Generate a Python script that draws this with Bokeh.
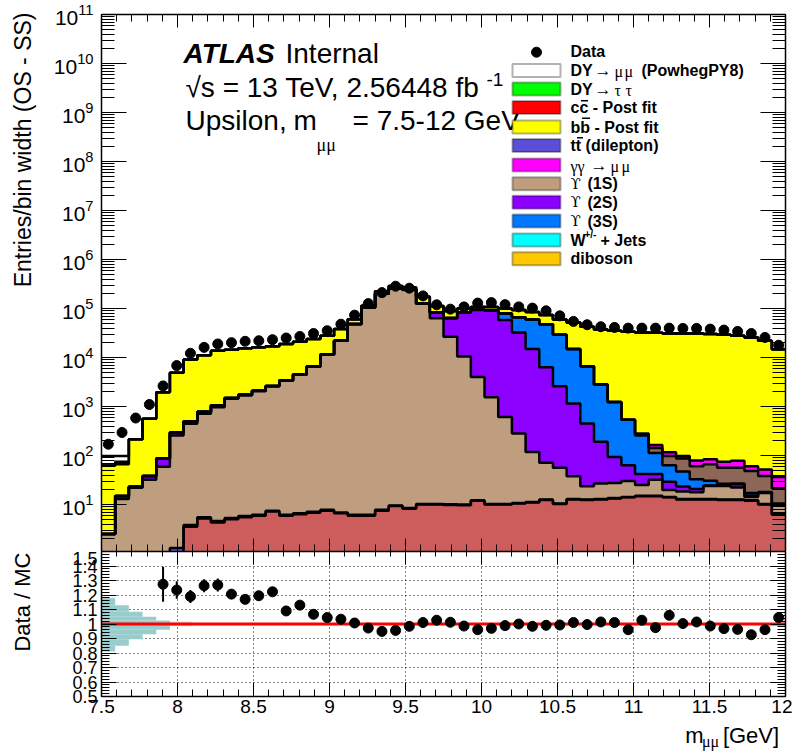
import math
import numpy as np
from bokeh.plotting import figure
from bokeh.layouts import column, row
from bokeh.models import (Range1d, LinearScale, FixedTicker, LogTickFormatter,
                          CustomJSTickFormatter, LinearAxis, LogAxis, Label, BoxAnnotation)
from bokeh.embed import file_html
from bokeh.resources import INLINE

# ---------------- binning: 50 bins of 0.09 GeV ----------------
mass_lo, mass_hi, n_bins = 7.5, 12.0, 50
edges = np.linspace(mass_lo, mass_hi, n_bins + 1)
centers = 0.5 * (edges[:-1] + edges[1:])

# ---------------- data (entries / bin width, OS - SS) ----------------
data_vals = [170, 295, 582, 1100, 2630, 6840, 12200, 16100, 18900, 20100,
             21400, 22000, 23100, 25000, 26900, 30900, 35200, 47900, 73300, 126000,
             211000, 285000, 260000, 181000, 119000, 97000, 108000, 129000, 132000, 120000,
             108000, 102000, 89700, 70800, 54500, 46700, 42500, 41100, 39800, 39800,
             39800, 39800, 39300, 39300, 38000, 36300, 34100, 30900, 25700, 17800]

# ---------------- stacked MC components (bottom to top) ----------------
misc_red = [0, 0, 0, 0, 0, 0, 3.5, 5.2, 4.3, 5.0,
            5.5, 5.9, 7.2, 5.9, 6.3, 6.8, 7.5, 6.6, 5.9, 5.9,
            7.5, 9.3, 8.2, 10.0, 10.0, 9.8, 9.7, 11.9, 10.0, 10.0,
            10.5, 11.0, 12.3, 10.2, 12.6, 12.3, 12.6, 13.3, 14.0, 14.8,
            14.8, 14.0, 12.6, 12.6, 12.6, 12.3, 12.3, 11.9, 10.0, 6.2]
ttbar = [0, 0, 0, 0, 0, 1.3, 0.3, 0.3, 0.3, 0.3,
         0.3, 0.3, 0.3, 0.3, 0.3, 0.3, 0.3, 0.3, 0.3, 0.3,
         0.3, 0.3, 0.3, 0.3, 0.3, 0.3, 0.3, 0.3, 0.3, 0.3,
         0.3, 0.3, 0.3, 0.3, 0.3, 0.3, 0.3, 0.3, 0.3, 0.3,
         0.3, 0.3, 0.3, 0.3, 0.3, 0.3, 0.3, 0.3, 0.3, 0.3]
ups1s = [2.5, 13, 22, 32, 59, 256, 442, 705, 966, 1435,
         1675, 2044, 2573, 3364, 4464, 6493, 11490, 21890, 47990, 105000,
         200000, 255000, 240000, 125000, 63000, 26500, 10500, 4000, 1540, 600,
         270, 107, 59, 46, 25, 11, 14, 14, 16, 10,
         17, 5.5, 5.6, 4.8, 11, 11.4, 9.7, 2, 6.8, 3]
ups2s = [0, 2, 1, 6, 28, 36, 54, 70, 80, 60,
         50, 50, 50, 50, 50, 50, 60, 60, 100, 100,
         200, 300, 500, 1000, 20000, 37000, 72500, 89000, 88000, 57400,
         32200, 14800, 6230, 2540, 1110, 427, 163, 66, 33, 17,
         10, 9.5, 4.8, 3, 0.5, 0.5, 3.7, 1, 0.5, 0.5]
ups3s = [0, 0, 0, 0, 0, 0, 0, 0, 0, 0,
         0, 0, 0, 0, 0, 0, 0, 0, 0, 0,
         0, 0, 0, 0, 300, 500, 1000, 1500, 3000, 21000,
         33500, 45000, 41700, 26600, 13750, 6150, 2610, 1137, 474, 215,
         70, 34, 24, 12, 6, 2, 1, 2, 0.5, 0.5]
misc_brown = [0, 0, 0, 0, 0, 0, 0, 0, 0, 0,
              0, 0, 0, 0, 0, 0, 0, 0, 0, 0,
              0, 0, 0, 0, 0, 0, 0, 0, 0, 0,
              0, 0, 0, 0, 0, 0, 0, 0, 0, 15,
              31, 34, 40, 28, 36, 30, 29, 31, 20, 11]
gamgam = [0, 0, 0, 0, 0, 0, 0, 0, 0, 0,
          0, 0, 0, 0, 0, 0, 0, 0, 0, 0,
          0, 0, 0, 0, 0, 0, 0, 0, 0, 0,
          0, 0, 0, 0, 0, 0, 0, 0, 0, 10,
          21, 19, 10, 18, 18, 18, 22, 12, 14, 15]
bbbar = [60, 51, 191, 522, 1860, 4600, 8620, 10310, 12750, 12950,
         13770, 14100, 14370, 15380, 16380, 17450, 16340, 16040, 12200, 8400,
         24800, 32700, 29500, 48000, 29700, 25000, 16000, 12500, 14450, 21000,
         27000, 25100, 26000, 30800, 37000, 35900, 34500, 33870, 32960, 32120,
         31840, 30880, 30900, 30920, 30120, 29130, 27820, 25640, 21850, 14760]
ccbar = [0, 9, 0, 0, 0, 0, 0, 0, 0, 0,
         0, 0, 0, 0, 0, 0, 0, 0, 0, 0,
         0, 0, 0, 0, 0, 0, 0, 0, 0, 0,
         0, 0, 0, 0, 0, 0, 0, 0, 0, 0,
         0, 0, 0, 0, 0, 0, 0, 0, 0, 0]
dymumu = [35, 23, 0, 0, 0, 0, 0, 0, 0, 0,
          0, 0, 0, 0, 0, 0, 0, 0, 0, 0,
          0, 0, 0, 0, 0, 0, 0, 0, 0, 0,
          0, 0, 0, 0, 0, 0, 0, 0, 0, 0,
          0, 0, 0, 0, 0, 0, 0, 0, 0, 0]

# ---------------- ratio panel ----------------
nan = float("nan")
ratio_vals = [nan, nan, nan, nan, 1.274, 1.234, 1.19, 1.264, 1.269, 1.206,
              1.17, 1.195, 1.222, 1.09, 1.13, 1.067, 1.044, 1.033, 1.007, 0.972,
              0.949, 0.956, 0.984, 1.01, 1.026, 1.012, 0.986, 0.961, 0.97, 0.989,
              1.0, 0.984, 0.991, 0.993, 1.01, 0.996, 1.014, 1.01, 0.961, 1.026,
              0.975, 1.06, 1.003, 1.014, 0.986, 0.968, 0.963, 0.926, 0.961, 1.044]
ratio_errs = [nan, nan, nan, nan, 0.12, 0.06, 0.045, 0.045, 0.045, 0.03,
              0.025, 0.02, 0.02, 0.015, 0.015, 0.012, 0.012, 0.01, 0.01, 0.01,
              0.01, 0.01, 0.01, 0.01, 0.01, 0.01, 0.01, 0.01, 0.01, 0.01,
              0.01, 0.01, 0.01, 0.01, 0.01, 0.01, 0.01, 0.01, 0.01, 0.01,
              0.01, 0.01, 0.01, 0.01, 0.01, 0.01, 0.01, 0.01, 0.01, 0.01]

# sideways spread histogram drawn against the left edge of the ratio panel
spread_edges = [0.81, 0.85, 0.895, 0.93, 0.96, 1.0, 1.025, 1.05, 1.085, 1.13, 1.18]
spread_len = [0.09, 0.18, 0.27, 0.36, 0.45, 0.45, 0.36, 0.27, 0.18, 0.09]

x_ticks = [7.5, 8.0, 8.5, 9.0, 9.5, 10.0, 10.5, 11.0, 11.5, 12.0]
ratio_ticks = [0.5, 0.6, 0.7, 0.8, 0.9, 1.0, 1.1, 1.2, 1.3, 1.4, 1.5]
log_ticks = [1e1, 1e2, 1e3, 1e4, 1e5, 1e6, 1e7, 1e8, 1e9, 1e10, 1e11]

# ---------------- layout constants (page pixels) ----------------
FONT = "Liberation Sans"
SYM = "Liberation Serif"
W, H = 792, 751
STRIP_W = 40                 # left strip holding the rotated axis titles
FR_L, FR_R = 101, 785        # frame left / right
TOP_T, TOP_B = 14, 551       # upper frame top / bottom
BOT_B = 696                  # lower frame bottom
TITLE_T = 721                # top of the strip holding the x title
H_TOP = TOP_B
H_BOT = TITLE_T - TOP_B
H_TITLE = H - TITLE_T
PANEL_W = W - STRIP_W

x_minor = [round(7.5 + 0.1 * i, 2) for i in range(46)]
log_minor = [m * 10 ** k for k in range(0, 11) for m in range(2, 10) if m * 10 ** k > 1.1]
ratio_minor = [round(0.5 + 0.02 * i, 3) for i in range(51)]
blank = CustomJSTickFormatter(code="return ''")
short_num = CustomJSTickFormatter(code="return (Math.round(tick*10)/10).toString();")


def style_axis(ax, major_in, minor_in, labels=True, size="19px", standoff=4):
    ax.major_tick_in = major_in
    ax.major_tick_out = 0
    ax.minor_tick_in = minor_in
    ax.minor_tick_out = 0
    ax.axis_line_color = "black"
    ax.axis_line_width = 1.5
    ax.major_tick_line_color = "black"
    ax.minor_tick_line_color = "black"
    ax.major_tick_line_width = 1
    ax.minor_tick_line_width = 1
    ax.major_label_text_font = FONT
    ax.major_label_text_color = "black"
    ax.axis_label = None
    if labels:
        ax.major_label_text_font_size = size
        ax.major_label_standoff = standoff
    else:
        ax.formatter = blank
        ax.major_label_text_font_size = "0px"
        ax.major_label_standoff = 0


def put(fig, x, y, text, size, font=FONT, style="normal", align="left",
        angle=0.0, on_page=True):
    """Place a text whose vertical middle sits at page pixel y."""
    kw = dict(x_range_name="px", y_range_name="py") if on_page else {}
    fig.add_layout(Label(x=x, y=y, text=text, text_font=font, text_font_size=f"{size}px",
                         text_font_style=style, text_align=align, text_baseline="middle",
                         angle=angle, text_color="black", **kw))


def bare_strip(width, height, x0, x1, y0, y1):
    s = figure(width=width, height=height, x_range=Range1d(x0, x1), y_range=Range1d(y1, y0),
               output_backend="svg", toolbar_location=None,
               x_axis_location=None, y_axis_location=None,
               min_border_left=0, min_border_right=0, min_border_top=0, min_border_bottom=0)
    s.grid.visible = False
    s.outline_line_color = None
    s.background_fill_color = "white"
    s.border_fill_color = "white"
    return s


x_range = Range1d(mass_lo, mass_hi)

# ================= upper panel: stacked spectrum =================
top = figure(width=PANEL_W, height=H_TOP, x_range=x_range, y_range=Range1d(1.1, 1e11),
             y_axis_type="log", output_backend="svg", toolbar_location=None,
             min_border_left=FR_L - STRIP_W, min_border_right=W - FR_R,
             min_border_top=TOP_T, min_border_bottom=0)
top.extra_x_ranges = {"px": Range1d(FR_L, FR_R)}
top.extra_y_ranges = {"py": Range1d(TOP_B, TOP_T)}
top.extra_x_scales = {"px": LinearScale()}
top.extra_y_scales = {"py": LinearScale()}
top.grid.visible = False
top.outline_line_color = "black"
top.background_fill_color = "white"
top.border_fill_color = "white"

top.xaxis.ticker = FixedTicker(ticks=x_ticks, minor_ticks=x_minor)
style_axis(top.xaxis[0], 13, 7, labels=False)
top.yaxis.ticker = FixedTicker(ticks=log_ticks, minor_ticks=log_minor)
top.yaxis.formatter = LogTickFormatter(min_exponent=1)
style_axis(top.yaxis[0], 25, 13, labels=True, size="21px", standoff=8)

ax_up = LinearAxis(ticker=FixedTicker(ticks=x_ticks, minor_ticks=x_minor))
style_axis(ax_up, 13, 7, labels=False)
top.add_layout(ax_up, "above")
ax_rt = LogAxis(ticker=FixedTicker(ticks=log_ticks, minor_ticks=log_minor))
style_axis(ax_rt, 25, 13, labels=False)
top.add_layout(ax_rt, "right")

stack = [
    (misc_red, "#cd5c5c"),
    (ttbar, "#5a4fd6"),
    (ups1s, "#bf9e80"),
    (ups2s, "#8b00ff"),
    (ups3s, "#0077ff"),
    (misc_brown, "#8c6656"),
    (gamgam, "#ff00ff"),
    (bbbar, "#ffff00"),
    (ccbar, "#ff0000"),
    (dymumu, "#ffffff"),
]
FLOOR = 0.05


def band_polygon(lower, upper):
    xs, ys = [], []
    for i in range(n_bins):
        xs += [edges[i], edges[i + 1]]
        ys += [upper[i], upper[i]]
    for i in range(n_bins - 1, -1, -1):
        xs += [edges[i + 1], edges[i]]
        ys += [lower[i], lower[i]]
    return xs, ys


cum = np.zeros(n_bins)
layer_tops = []
for vals, color in stack:
    lower = np.maximum(cum, FLOOR)
    cum = cum + np.asarray(vals, dtype=float)
    upper = np.maximum(cum, FLOOR)
    bx, by = band_polygon(lower, upper)
    top.patch(bx, by, fill_color=color, line_color=None)
    layer_tops.append(upper)
for c in layer_tops:
    top.step(edges, np.append(c, c[-1]), mode="after", line_color="black", line_width=2.5)

top.scatter(centers, data_vals, size=10, color="black")

# ---- ATLAS block
put(top, 183, 53, "ATLAS", 28, style="bold italic")
put(top, 285, 53, "Internal", 28)
put(top, 185, 87, "\u221as = 13 TeV, 2.56448 fb", 28)
put(top, 486, 79, "-1", 19)
put(top, 185, 120, "Upsilon,", 28)
put(top, 293, 120, "m", 28)
put(top, 316, 144, "\u03bc\u03bc", 18, font=SYM)
put(top, 352, 120, "= 7.5-12 GeV", 28)

# ---- legend
rows = [50.7, 70.0, 88.5, 107.0, 126.5, 145.0, 164.5, 183.3, 201.8, 220.5, 239.5, 258.3]
legend_fill = [None, "#ffffff", "#00ff00", "#ff0000", "#ffff00", "#5a4fd6",
               "#ff00ff", "#bf9e80", "#8b00ff", "#0077ff", "#00ffff", "#ffc800"]
for cy, col in zip(rows, legend_fill):
    if col is None:
        continue
    top.add_layout(BoxAnnotation(left=512, right=560, top=cy - 6.5, bottom=cy + 6.5,
                                 fill_color=col, fill_alpha=1.0, line_color="black",
                                 line_width=2, x_range_name="px", y_range_name="py"))
top.scatter([536], [rows[0] + 1], size=10, color="black", x_range_name="px", y_range_name="py")

B = "bold"
N = "normal"
legend_text = [
    (0, [("Data", 570, FONT, B, 16, 0)]),
    (1, [("DY", 570, FONT, B, 16, 0), ("\u2192", 594, SYM, N, 17, 0), ("\u03bc", 614, SYM, N, 16, 1),
         ("\u03bc", 624, SYM, N, 16, 1), ("(PowhegPY8)", 641, FONT, B, 16, 0)]),
    (2, [("DY", 570, FONT, B, 16, 0), ("\u2192", 594, SYM, N, 17, 0), ("\u03c4", 614, SYM, N, 16, 1),
         ("\u03c4", 625, SYM, N, 16, 1)]),
    (3, [("cc - Post fit", 570, FONT, B, 16, 0)]),
    (4, [("bb - Post fit", 570, FONT, B, 16, 0)]),
    (5, [("tt (dilepton)", 570, FONT, B, 16, 0)]),
    (6, [("\u03b3\u03b3", 570, SYM, N, 16, 1), ("\u2192", 590, SYM, N, 17, 0),
         ("\u03bc", 610, SYM, N, 16, 1), ("\u03bc", 621, SYM, N, 16, 1)]),
    (7, [("\u03d2", 570, "DejaVu Serif", N, 15, 0), ("(1S)", 587, FONT, B, 16, 0)]),
    (8, [("\u03d2", 570, "DejaVu Serif", N, 15, 0), ("(2S)", 587, FONT, B, 16, 0)]),
    (9, [("\u03d2", 570, "DejaVu Serif", N, 15, 0), ("(3S)", 587, FONT, B, 16, 0)]),
    (10, [("W", 570, FONT, B, 16, 0), ("+/-", 584, FONT, B, 10, -6), ("+ Jets", 600, FONT, B, 16, 0)]),
    (11, [("diboson", 570, FONT, B, 16, 0)]),
]
for idx, pieces in legend_text:
    for txt, x, font, style, size, dy in pieces:
        put(top, x, rows[idx] + dy, txt, size, font=font, style=style)

# bars over the anti-quark symbols
bar_y = [rows[3] - 6.8, rows[4] - 8.8, rows[5] - 7.8]
top.segment(x0=[580.5, 581.5, 576.5], y0=bar_y, x1=[587.5, 589.5, 582.5], y1=bar_y,
            line_color="black", line_width=1.6, x_range_name="px", y_range_name="py")

# ================= lower panel: Data / MC =================
bot = figure(width=PANEL_W, height=H_BOT, x_range=x_range, y_range=Range1d(0.5, 1.5),
             output_backend="svg", toolbar_location=None,
             min_border_left=FR_L - STRIP_W, min_border_right=W - FR_R,
             min_border_top=0, min_border_bottom=H_BOT - (BOT_B - TOP_B))
bot.extra_x_ranges = {"px": Range1d(FR_L, FR_R)}
bot.extra_y_ranges = {"py": Range1d(BOT_B, TOP_B)}
bot.extra_x_scales = {"px": LinearScale()}
bot.extra_y_scales = {"py": LinearScale()}
bot.outline_line_color = "black"
bot.background_fill_color = "white"
bot.border_fill_color = "white"

bot.xaxis.ticker = FixedTicker(ticks=x_ticks, minor_ticks=x_minor)
bot.xaxis.formatter = short_num
style_axis(bot.xaxis[0], 14, 7, labels=True, size="19px", standoff=3)
bot.yaxis.ticker = FixedTicker(ticks=ratio_ticks, minor_ticks=ratio_minor)
bot.yaxis.formatter = short_num
style_axis(bot.yaxis[0], 15, 8, labels=True, size="18px", standoff=4)

ax_up2 = LinearAxis(ticker=FixedTicker(ticks=x_ticks, minor_ticks=x_minor))
style_axis(ax_up2, 13, 5, labels=False)
bot.add_layout(ax_up2, "above")
ax_rt2 = LinearAxis(ticker=FixedTicker(ticks=ratio_ticks, minor_ticks=ratio_minor))
style_axis(ax_rt2, 15, 8, labels=False)
bot.add_layout(ax_rt2, "right")

bot.xgrid.ticker = FixedTicker(ticks=x_ticks)
bot.ygrid.ticker = FixedTicker(ticks=ratio_ticks)
for g in (bot.xgrid[0], bot.ygrid[0]):
    g.grid_line_color = "black"
    g.grid_line_dash = "1 3"
    g.grid_line_width = 1
    g.grid_line_alpha = 1.0

# pale centre bar and sideways spread histogram
bot.quad(left=[mass_lo], right=[8.1], bottom=[0.985], top=[1.018],
         fill_color="#dcdcdc", fill_alpha=0.8, line_color=None)
bot.quad(left=[mass_lo] * len(spread_len),
         right=[mass_lo + s for s in spread_len],
         bottom=spread_edges[:-1], top=spread_edges[1:],
         fill_color="#99cccc", line_color=None)

bot.line([mass_lo, mass_hi], [1.0, 1.0], line_color="#ff0000", line_width=3)

r = np.asarray(ratio_vals)
e = np.asarray(ratio_errs)
bot.segment(x0=centers, y0=r - e, x1=centers, y1=r + e, line_color="black", line_width=2)
bot.scatter(centers, ratio_vals, size=10, color="black")

# ================= title strips =================
left_strip = bare_strip(STRIP_W, H, 0, STRIP_W, 0, H)
put(left_strip, 22, 12, "Entries/bin width (OS - SS)", 23, align="right",
    angle=math.pi / 2, on_page=False)
put(left_strip, 22, 552, "Data / MC", 22, align="right",
    angle=math.pi / 2, on_page=False)

x_title = bare_strip(PANEL_W, H_TITLE, STRIP_W, W, TITLE_T, H)
put(x_title, 785, 735, "[GeV]", 22, align="right", on_page=False)
put(x_title, 719, 741, "\u03bc\u03bc", 16, font=SYM, align="right", on_page=False)
put(x_title, 702, 735, "m", 22, align="right", on_page=False)

layout = row(left_strip, column(top, bot, x_title, spacing=0), spacing=0)
with open("out.html", "w") as f:
    f.write(file_html(layout, INLINE))
